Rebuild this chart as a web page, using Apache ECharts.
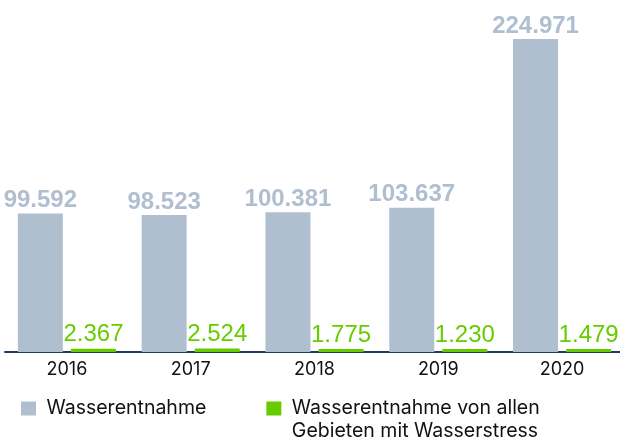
<!DOCTYPE html>
<html><head><meta charset="utf-8">
<script src="https://cdn.jsdelivr.net/npm/echarts@6/dist/echarts.min.js"></script>
<style>html,body{margin:0;padding:0;background:#fff}#c{width:620px;height:441px}</style>
</head><body><div id="c"></div>
<script>
const years = ['2016','2017','2018','2019','2020'];
const withdrawal = [99.592, 98.523, 100.381, 103.637, 224.971];
const stressWithdrawal = [2.367, 2.524, 1.775, 1.230, 1.479];
const seriesNames = ['Wasserentnahme', 'Wasserentnahme von allen Gebieten mit Wasserstress'];

const GREY = '#b0bfd0', GREEN = '#66cc00';
const FONT = '"Liberation Sans", Arial, sans-serif';
const FONT2 = 'Inter, "Liberation Sans", sans-serif';
const fmt = v => v.toFixed(3);

const chart = echarts.init(document.getElementById('c'));
chart.setOption({
  animation: false,
  grid: { left: 5, width: 619, top: 39, bottom: 89, containLabel: false, outerBoundsMode: 'none' },
  xAxis: {
    type: 'category', data: years,
    axisLine: { lineStyle: { color: '#1f3a5a', width: 2 } },
    axisTick: { show: false },
    axisLabel: { color: '#111', fontSize: 18, fontFamily: FONT2, margin: 9 }
  },
  yAxis: { type: 'value', min: 0, max: 225, show: false, splitLine: { show: false } },
  legend: {
    left: 21, top: 374, padding: 0, itemWidth: 15, itemHeight: 14, itemGap: 60, icon: 'rect',
    selectedMode: false,
    formatter: n => n === seriesNames[1] ? '\n Wasserentnahme von allen\n Gebieten mit Wasserstress' : ' ' + n,
    textStyle: { fontSize: 19.5, fontFamily: FONT2, color: '#111', lineHeight: 23 },
    data: seriesNames
  },
  series: [
    {
      name: seriesNames[0], type: 'bar', data: withdrawal, barWidth: 45, barGap: '18%',
      itemStyle: { color: GREY },
      label: { show: true, position: 'top', distance: 1, color: GREY, fontWeight: 'bold',
        fontSize: 24, fontFamily: FONT, formatter: p => fmt(p.value) }
    },
    {
      name: seriesNames[1], type: 'bar', data: stressWithdrawal, barWidth: 45, barMinHeight: 3,
      itemStyle: { color: GREEN },
      label: { show: true, position: 'top', distance: 2, color: GREEN,
        fontSize: 24, fontFamily: FONT, formatter: p => fmt(p.value) }
    }
  ]
});
</script></body></html>
